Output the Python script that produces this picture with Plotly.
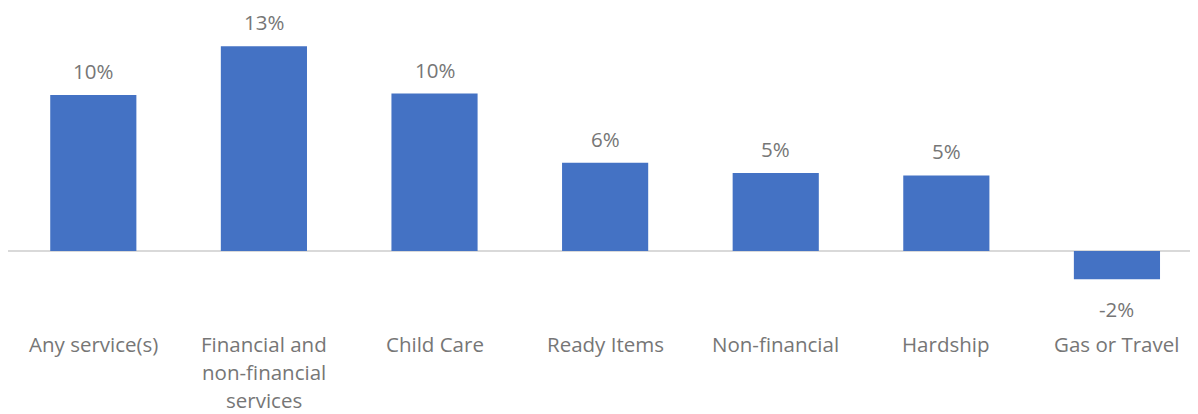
import plotly.graph_objects as go

categories = ["Any service(s)", "Financial and<br>non-financial<br>services", "Child Care",
              "Ready Items", "Non-financial", "Hardship", "Gas or Travel"]
values = [9.9, 13.0, 10.0, 5.6, 4.95, 4.8, -1.8]
labels = ["10%", "13%", "10%", "6%", "5%", "5%", "-2%"]

FONT = "Open Sans"
GRAY = "#767676"

fig = go.Figure(go.Bar(
    x=list(range(len(categories))), y=values,
    marker=dict(color="#4472C4", line=dict(width=0)),
    width=0.505,
))

annotations = []
for i, (v, lab) in enumerate(zip(values, labels)):
    annotations.append(dict(
        x=i, xref="x", y=v, yref="y", yanchor="middle",
        yshift=24 if v >= 0 else -30, text=lab, showarrow=False,
        font=dict(family=FONT, size=20.5, color=GRAY),
    ))
for i, cat in enumerate(categories):
    for j, line in enumerate(cat.split("<br>")):
        annotations.append(dict(
            x=i, xref="x", y=0, yref="paper", yanchor="middle",
            yshift=-(14 + 28 * j), text=line, showarrow=False,
            font=dict(family=FONT, size=20.5, color=GRAY),
        ))

fig.update_layout(
    width=1198, height=414,
    margin=dict(l=0, r=0, t=12, b=92),
    plot_bgcolor="white", paper_bgcolor="white",
    showlegend=False, annotations=annotations,
    xaxis=dict(range=[-0.5, 6.522], showticklabels=False, showgrid=False,
               zeroline=False, showline=False),
    yaxis=dict(range=[-5.02, 14.67], showticklabels=False, showgrid=False,
               zeroline=True, zerolinecolor="#d9d9d9", zerolinewidth=2),
)
fig.write_html("out.html")
